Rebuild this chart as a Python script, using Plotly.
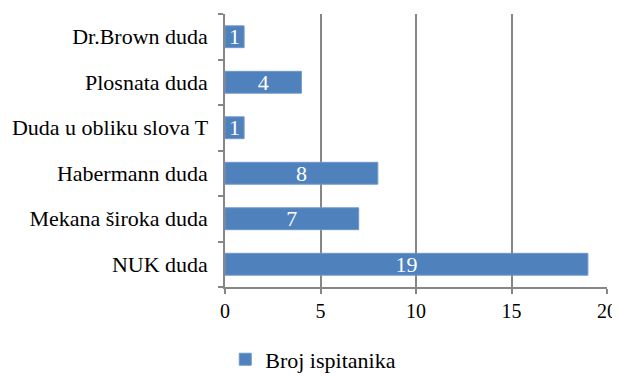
import plotly.graph_objects as go

categories = ["NUK duda", "Mekana široka duda", "Habermann duda",
              "Duda u obliku slova T", "Plosnata duda", "Dr.Brown duda"]
values = [19, 7, 8, 1, 4, 1]
series_name = "Broj ispitanika"
x_ticks = [0, 5, 10, 15, 20]

FONT = "Liberation Serif"
BLUE = "#4F81BD"
GRID = "#868686"

fig = go.Figure()
fig.add_trace(go.Bar(
    y=categories, x=values, orientation="h", name=series_name,
    marker=dict(color=BLUE, line=dict(color="#6d97cc", width=1)),
    text=[str(v) for v in values], textposition="inside", textangle=0,
    insidetextanchor="middle", constraintext="none",
    textfont=dict(family=FONT, size=22, color="white"),
    width=0.48, showlegend=True,
))

# page body has an 8px margin, so the figure is sized to fit the window
fig.update_layout(
    width=612, height=368,
    margin=dict(l=217, r=13, t=6, b=89, autoexpand=False),
    paper_bgcolor="white", plot_bgcolor="white",
    font=dict(family=FONT, size=18, color="#000000"),
    showlegend=True,
    legend=dict(orientation="h", xref="container", yref="container",
                x=0.355, y=0.045, xanchor="left", yanchor="middle",
                font=dict(family=FONT, size=22, color="#000000"),
                itemwidth=30, tracegroupgap=0),
    xaxis=dict(range=[0, 20], tickvals=x_ticks, showgrid=True,
               gridcolor=GRID, gridwidth=1.5, zeroline=False,
               showline=True, linecolor=GRID, linewidth=1.5,
               ticks="outside", ticklen=5, tickcolor=GRID, tickwidth=1.5,
               automargin=False,
               tickfont=dict(family=FONT, size=20, color="#000000")),
    yaxis=dict(categoryorder="array", categoryarray=categories,
               showline=True, linecolor=GRID, linewidth=1.5,
               ticks="outside", ticklen=5, tickcolor=GRID, tickwidth=1.5,
               tickson="boundaries", showgrid=False, automargin=False,
               tickfont=dict(family=FONT, size=22, color="#000000"),
               ticksuffix="  "),
)

fig.write_html("out.html")
